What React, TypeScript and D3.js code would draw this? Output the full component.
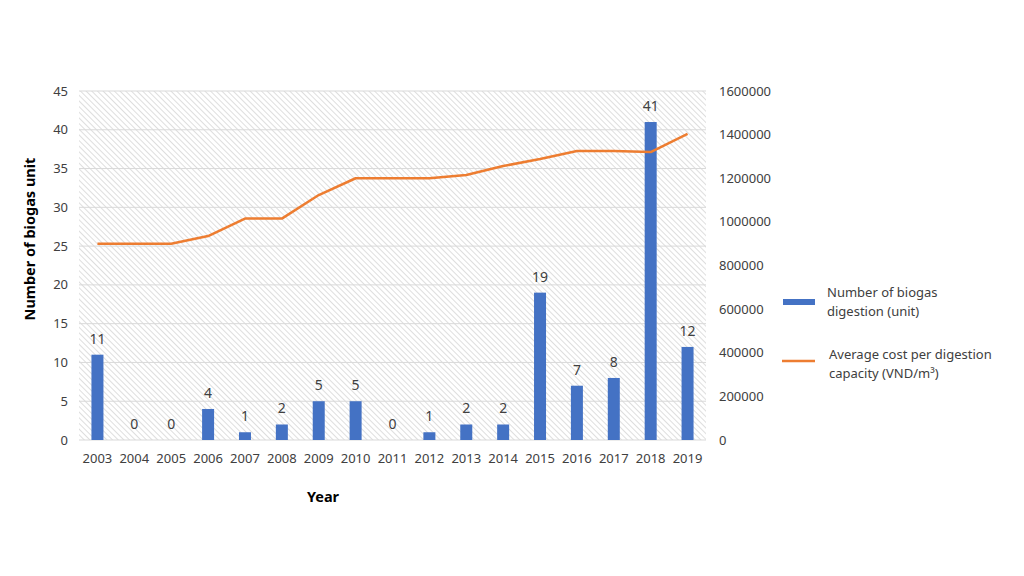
import * as d3 from "d3";

const years = ["2003", "2004", "2005", "2006", "2007", "2008", "2009", "2010", "2011", "2012", "2013", "2014", "2015", "2016", "2017", "2018", "2019"];
const units = [11, 0, 0, 4, 1, 2, 5, 5, 0, 1, 2, 2, 19, 7, 8, 41, 12];
const avgCost = [900000, 900000, 900000, 935000, 1015000, 1015000, 1123000, 1200000, 1200000, 1200000, 1215000, 1256000, 1288000, 1325000, 1325000, 1320000, 1403000];
const leftTicks = [0, 5, 10, 15, 20, 25, 30, 35, 40, 45];
const rightTicks = [0, 200000, 400000, 600000, 800000, 1000000, 1200000, 1400000, 1600000];

const blue = "#4472C4";
const orange = "#ED7D31";
const font = "'Noto Sans', 'Open Sans', sans-serif";

export default function App() {
    const left = 79, right = 706, top = 91, bottom = 440;
    const x = d3.scaleBand().domain(years).range([left, right]);
    const yL = d3.scaleLinear().domain([0, 45]).range([bottom, top]);
    const yR = d3.scaleLinear().domain([0, 1600000]).range([bottom, top]);
    const barW = 12;
    const line = d3.line<number>()
        .x((_, i) => x(years[i])! + x.bandwidth() / 2)
        .y(d => yR(d));

    return <svg width={1024} height={576} style={{position: "absolute", left: 0, top: 0, background: "#fff"}} fontFamily={font}>
        <defs>
            <pattern id="hatch" width={4} height={4} patternUnits="userSpaceOnUse" patternTransform="rotate(-45)">
                <line x1={0} y1={0} x2={0} y2={4} stroke="#d6d6d6" strokeWidth={1.6}/>
            </pattern>
        </defs>
        <rect x={left} y={top} width={right - left} height={bottom - top} fill="url(#hatch)"/>
        {leftTicks.map(t => (
            <line key={t} x1={left} x2={right} y1={yL(t)} y2={yL(t)} stroke="#d9d9d9" strokeWidth={1}/>
        ))}
        {leftTicks.map(t => (
            <text key={t} x={68} y={yL(t)} dy="0.35em" textAnchor="end" fontSize={13} fill="#404040">{t}</text>
        ))}
        {rightTicks.map(t => (
            <text key={t} x={719} y={yR(t)} dy="0.35em" textAnchor="start" fontSize={13} fill="#404040">{t}</text>
        ))}
        {years.map(yr => (
            <text key={yr} x={x(yr)! + x.bandwidth() / 2} y={463} textAnchor="middle" fontSize={13} fill="#404040">{yr}</text>
        ))}
        {units.map((v, i) => (
            <rect key={i} x={x(years[i])! + x.bandwidth() / 2 - barW / 2} y={yL(v)} width={barW} height={bottom - yL(v)} fill={blue}/>
        ))}
        <path d={line(avgCost)!} fill="none" stroke={orange} strokeWidth={2.5} strokeLinejoin="round"/>
        {units.map((v, i) => (
            <text key={i} x={x(years[i])! + x.bandwidth() / 2} y={yL(v) - 11} textAnchor="middle" fontSize={14} fill="#404040">{v}</text>
        ))}
        <text transform="translate(35,239) rotate(-90)" textAnchor="middle" fontSize={14.5} fontWeight="bold" fill="#000">Number of biogas unit</text>
        <text x={323} y={502} textAnchor="middle" fontSize={14.5} fontWeight="bold" fill="#000">Year</text>
        <rect x={783} y={299} width={32} height={6} fill={blue}/>
        <text x={827} y={297} fontSize={13} fill="#404040">Number of biogas</text>
        <text x={827} y={316} fontSize={13} fill="#404040">digestion (unit)</text>
        <line x1={782} x2={815} y1={361} y2={361} stroke={orange} strokeWidth={2.5}/>
        <text x={829} y={359} fontSize={13} fill="#404040">Average cost per digestion</text>
        <text x={829} y={378} fontSize={13} fill="#404040">capacity (VND/m³)</text>
    </svg>;
}
